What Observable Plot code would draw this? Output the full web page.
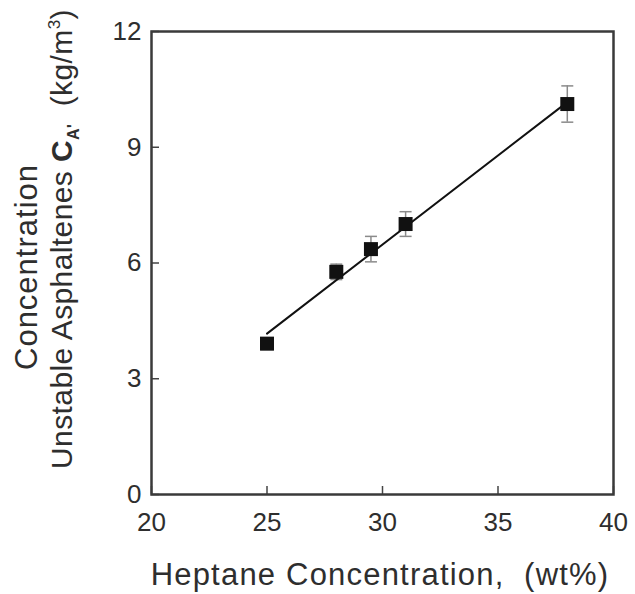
<!DOCTYPE html>
<html>
<head>
<meta charset="utf-8">
<script src="https://cdn.jsdelivr.net/npm/d3@7"></script>
<script src="https://cdn.jsdelivr.net/npm/@observablehq/plot@0.6"></script>
<style>
  body { margin: 0; background: #fff; }
  #chart svg { display: block; }
</style>
</head>
<body>
<div id="chart"></div>
<script>
// Measured points: heptane content vs. unstable asphaltene concentration
const heptane = [25, 28, 29.5, 31, 38];
const unstable = [3.91, 5.77, 6.36, 7.01, 10.12];
const errors = [0.15, 0.2, 0.33, 0.32, 0.47];

// Linear fit through the measurements
const fitHeptane = [25, 38];
const fitUnstable = [4.17, 10.17];

const xTicks = [20, 25, 30, 35, 40];
const yTicks = [0, 3, 6, 9, 12];

const points = heptane.map((x, i) => ({x, y: unstable[i], e: errors[i]}));
const fit = fitHeptane.map((x, i) => ({x, y: fitUnstable[i]}));

// Horizontal cap for the error bars
const cap = {
  draw(context, size) {
    const w = Math.sqrt(size / Math.PI);
    context.moveTo(-w, 0);
    context.lineTo(w, 0);
  }
};

const ink = "#2e2e2e";

const plot = Plot.plot({
  width: 635,
  height: 594,
  marginLeft: 151,
  marginRight: 22,
  marginTop: 31,
  marginBottom: 100,
  style: {fontFamily: "'Liberation Sans', Arial, sans-serif", fontSize: "26px", color: ink, background: "#fff"},
  x: {domain: [20, 40], label: null},
  y: {domain: [0, 12], label: null},
  marks: [
    Plot.ruleX(points, {x: "x", y1: d => d.y - d.e, y2: d => d.y + d.e, stroke: "#8a8a8a", strokeWidth: 1.5}),
    Plot.dot(points, {x: "x", y: d => d.y + d.e, symbol: cap, r: 6, stroke: "#8a8a8a", strokeWidth: 1.5}),
    Plot.dot(points, {x: "x", y: d => d.y - d.e, symbol: cap, r: 6, stroke: "#8a8a8a", strokeWidth: 1.5}),
    Plot.line(fit, {x: "x", y: "y", stroke: "#111", strokeWidth: 2}),
    Plot.dot(points, {x: "x", y: "y", symbol: "square", r: 7.9, fill: "#111", stroke: "none"}),
    Plot.axisX(xTicks, {tickSize: -8, tickFormat: () => "", stroke: "#444", strokeWidth: 1.5}),
    Plot.axisY(yTicks, {tickSize: -8, tickFormat: () => "", stroke: "#444", strokeWidth: 1.5}),
    Plot.axisX(xTicks, {tickSize: 0, tickPadding: 18}),
    Plot.axisY(yTicks, {tickSize: 0, tickPadding: 10}),
    Plot.frame({stroke: "#3a3a3a", strokeWidth: 2.5})
  ]
});

document.getElementById("chart").appendChild(plot);

// Axis titles
const svg = d3.select(plot);
const labelFont = "'Liberation Sans', Arial, sans-serif";

svg.append("text")
  .attr("x", 380).attr("y", 585)
  .attr("text-anchor", "middle")
  .attr("font-family", labelFont).attr("font-size", 31)
  .attr("letter-spacing", 1.2)
  .attr("fill", ink)
  .text("Heptane Concentration,  (wt%)");

svg.append("text")
  .attr("transform", "translate(37,267) rotate(-90)")
  .attr("text-anchor", "middle")
  .attr("font-family", labelFont).attr("font-size", 31)
  .attr("letter-spacing", 1)
  .attr("fill", ink)
  .text("Concentration");

const line2 = svg.append("text")
  .attr("transform", "translate(72,239) rotate(-90)")
  .attr("text-anchor", "middle")
  .attr("font-family", labelFont).attr("font-size", 30)
  .attr("letter-spacing", 0.4)
  .attr("fill", ink)
  .attr("xml:space", "preserve")
  .style("white-space", "pre");
line2.append("tspan").text("Unstable Asphaltenes ");
line2.append("tspan").attr("font-weight", "bold").text("C");
line2.append("tspan").attr("font-size", 16).attr("font-weight", "bold").attr("dy", 7).text("A'");
line2.append("tspan").attr("dy", -7).text("  (kg/m");
line2.append("tspan").attr("font-size", 17).attr("dy", -12).text("3");
line2.append("tspan").attr("dy", 12).text(")");
</script>
</body>
</html>
